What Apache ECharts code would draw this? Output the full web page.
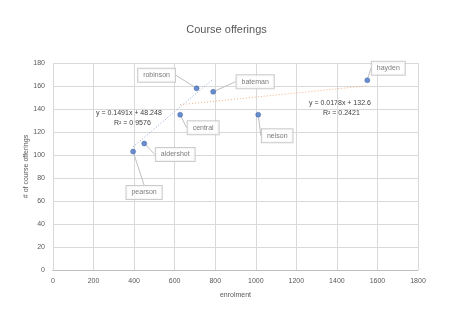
<!DOCTYPE html>
<html>
<head>
<meta charset="utf-8">
<script src="https://cdn.jsdelivr.net/npm/echarts@6/dist/echarts.min.js"></script>
<style>
  html, body { margin: 0; padding: 0; background: #fff; }
  #echarts { width: 453px; height: 312px; }
</style>
</head>
<body>
<div id="echarts"></div>
<script>
// Dados
var schools = ['pearson', 'aldershot', 'central', 'robinson', 'bateman', 'nelson', 'hayden'];
var enrolment = [395, 450, 627, 708, 790, 1012, 1550];
var offerings = [103, 110, 135, 158, 155, 135, 165];
// deslocamento das caixas de rótulo (px)
var labelDx = [11, 31, 23, -40, 42, 19, 21];
var labelDy = [41, 11, 13, -13, -10, 21, -12];

// Linhas de tendência: [inclinação, intercepto, x inicial, x final]
var trend1 = [0.1491, 48.248, 395, 790];
var trend2 = [0.0178, 132.6, 627, 1550];
var trendText1 = ['y = 0.1491x + 48.248', 'R² = 0.9576'];
var trendText2 = ['y = 0.0178x + 132.6', 'R² = 0.2421'];

var xTicks = [0, 200, 400, 600, 800, 1000, 1200, 1400, 1600, 1800];
var yTicks = [0, 20, 40, 60, 80, 100, 120, 140, 160, 180];

var chart = echarts.init(document.getElementById('echarts'));

var fonte = 'Liberation Sans, Arial, sans-serif';
var cinza = '#595959';

function trendPoints(t) {
    return [[t[2], t[0] * t[2] + t[1]], [t[3], t[0] * t[3] + t[1]]];
}

var pontos = schools.map(function (nome, i) {
    return { name: nome, value: [enrolment[i], offerings[i]] };
});

var options = {
    backgroundColor: '#fff',
    animation: false,
    title: {
        text: 'Course offerings',
        left: 'center',
        top: 19,
        textStyle: { fontFamily: fonte, fontSize: 11, fontWeight: 'normal', color: cinza }
    },
    grid: { left: 53, right: 35, top: 63, bottom: 42 },
    xAxis: {
        type: 'value',
        min: xTicks[0],
        max: xTicks[xTicks.length - 1],
        interval: 200,
        name: 'enrolment',
        nameLocation: 'middle',
        nameGap: 22,
        nameMoveOverlap: false,
        nameTextStyle: { fontFamily: fonte, fontSize: 7, color: cinza },
        axisLine: { show: true, lineStyle: { color: '#bfbfbf' } },
        axisTick: { show: false },
        axisLabel: {
            fontFamily: fonte, fontSize: 7, color: cinza, margin: 8,
            formatter: function (v) { return String(v); }
        },
        splitLine: { lineStyle: { color: '#d9d9d9' } }
    },
    yAxis: {
        type: 'value',
        min: yTicks[0],
        max: yTicks[yTicks.length - 1],
        interval: 20,
        name: '# of course offerings',
        nameLocation: 'middle',
        nameGap: 23,
        nameMoveOverlap: false,
        nameTextStyle: { fontFamily: fonte, fontSize: 7, color: cinza },
        axisLine: { show: false },
        axisTick: { show: false },
        axisLabel: {
            fontFamily: fonte, fontSize: 7, color: cinza, margin: 8,
            formatter: function (v) { return String(v); }
        },
        splitLine: { lineStyle: { color: '#d9d9d9' } }
    },
    graphic: [
        { type: 'text', left: 96, top: 110, style: { text: trendText1[0], font: '7px ' + fonte, fill: '#404040' } },
        { type: 'text', left: 114, top: 120, style: { text: trendText1[1], font: '7px ' + fonte, fill: '#404040' } },
        { type: 'text', left: 309, top: 100, style: { text: trendText2[0], font: '7px ' + fonte, fill: '#404040' } },
        { type: 'text', left: 323, top: 110, style: { text: trendText2[1], font: '7px ' + fonte, fill: '#404040' } }
    ],
    series: [
        {
            type: 'line',
            data: trendPoints(trend1),
            showSymbol: false,
            lineStyle: { color: '#8faadc', width: 1, type: [1, 2] },
            z: 2
        },
        {
            type: 'line',
            data: trendPoints(trend2),
            showSymbol: false,
            lineStyle: { color: '#f4b183', width: 1, type: [1, 2] },
            z: 2
        },
        {
            type: 'scatter',
            data: pontos,
            symbolSize: 5,
            itemStyle: { color: '#4472c4', borderColor: '#2f528f', borderWidth: 0.5 },
            z: 3,
            label: {
                show: true,
                formatter: '{b}',
                position: 'inside',
                fontFamily: fonte,
                fontSize: 7,
                color: cinza,
                backgroundColor: '#fff',
                borderColor: '#bfbfbf',
                borderWidth: 1,
                padding: [3, 5, 3, 5]
            },
            labelLine: { show: true, lineStyle: { color: '#bfbfbf', width: 1 } },
            labelLayout: function (params) {
                var i = params.dataIndex;
                return { dx: labelDx[i], dy: labelDy[i] };
            }
        }
    ]
};

chart.setOption(options);
</script>
</body>
</html>
